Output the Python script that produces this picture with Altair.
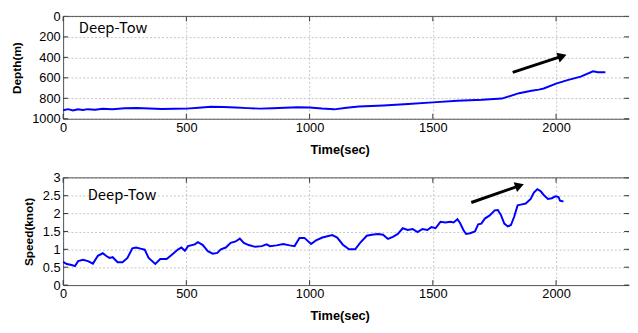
import altair as alt
import pandas as pd

# ---- data ----
depth_time = [0, 20, 40, 60, 80, 100, 130, 160, 200, 250, 300, 350, 400, 450, 500, 550, 600, 650,
              700, 750, 800, 850, 900, 950, 1000, 1050, 1100, 1150, 1200, 1300, 1400, 1500, 1600,
              1700, 1780, 1850, 1900, 1930, 1950, 2000, 2050, 2100, 2150, 2170, 2200]
depth_m = [917, 906, 918, 907, 915, 906, 912, 902, 906, 898, 895, 899, 904, 902, 901, 893, 883, 886,
           889, 896, 901, 897, 892, 888, 889, 900, 908, 892, 880, 870, 856, 840, 824,
           815, 803, 750, 727, 715, 704, 657, 620, 588, 537, 546, 546]

speed_time = [0, 15, 35, 48, 61, 81, 101, 121, 141, 161, 174, 188, 201, 221, 241, 261, 281, 296,
              314, 331, 347, 374, 394, 420, 440, 467, 480, 494, 507, 534, 547, 567, 587, 607,
              626, 640, 660, 680, 700, 717, 733, 753, 779, 806, 826, 839, 866, 893, 919, 939,
              959, 979, 1006, 1026, 1052, 1092, 1112, 1135, 1160, 1185, 1205, 1232, 1252, 1278,
              1298, 1318, 1338, 1358, 1378, 1398, 1418, 1438, 1458, 1478, 1494, 1511, 1531, 1551,
              1571, 1584, 1600, 1611, 1624, 1635, 1651, 1671, 1684, 1697, 1711, 1731, 1751, 1764,
              1777, 1790, 1804, 1817, 1830, 1844, 1857, 1877, 1897, 1910, 1924, 1937, 1950, 1967,
              1983, 1997, 2010, 2016, 2030]
speed_knot = [0.65, 0.59, 0.56, 0.53, 0.67, 0.71, 0.67, 0.60, 0.82, 0.89, 0.82, 0.76, 0.78, 0.64,
              0.64, 0.76, 1.03, 1.05, 1.02, 0.99, 0.76, 0.59, 0.73, 0.73, 0.84, 1.00, 1.05, 0.96,
              1.09, 1.14, 1.20, 1.12, 0.95, 0.88, 0.90, 1.00, 1.05, 1.18, 1.22, 1.30, 1.18, 1.12,
              1.07, 1.09, 1.14, 1.09, 1.11, 1.15, 1.11, 1.09, 1.32, 1.32, 1.15, 1.25, 1.33, 1.40,
              1.33, 1.13, 1.00, 1.00, 1.18, 1.38, 1.41, 1.43, 1.41, 1.29, 1.35, 1.43, 1.59, 1.54,
              1.57, 1.48, 1.57, 1.54, 1.62, 1.59, 1.77, 1.75, 1.77, 1.75, 1.84, 1.73, 1.54, 1.43,
              1.45, 1.50, 1.70, 1.72, 1.86, 1.95, 2.09, 2.10, 1.95, 1.72, 1.64, 1.68, 1.91, 2.23,
              2.25, 2.28, 2.41, 2.59, 2.68, 2.63, 2.52, 2.41, 2.43, 2.48, 2.46, 2.36, 2.34]

# arrow annotations (tail, head) in data units
depth_arrow_time = [1824, 2025]
depth_arrow_m = [546, 388]
speed_arrow_time = [1656, 1852]
speed_arrow_knot = [2.31, 2.78]

time_ticks = [0, 500, 1000, 1500, 2000]
depth_ticks = [0, 200, 400, 600, 800, 1000]
speed_ticks = [0, 0.5, 1, 1.5, 2, 2.5, 3]

W = 575
H1 = 104
H2 = 109
TMAX = 2296
FONT = "Liberation Sans"
LABEL_FONT = "Noto Sans CJK JP"
BLUE = "#0000FF"
GRID = "#c4c4c4"
FRAME = "#555555"


def panel(times, values, ticks, ymax, reverse, ytitle, ytitle_x, h, arrow_t, arrow_v, fmt,
          label_x, label_y):
    xs = alt.Scale(domain=[0, TMAX], nice=False, zero=False)
    ys = alt.Scale(domain=[0, ymax], nice=False, reverse=reverse)
    x_axis = alt.Axis(
        values=time_ticks, title="Time(sec)", grid=True, gridDash=[2, 2], gridColor=GRID,
        ticks=False, domainColor=FRAME, labelPadding=3, titleFontWeight="bold",
        titleFontSize=13, titleBaseline="middle", titleY=31, titleX=281, format="d",
        labelFlush=False, labelOverlap=False)
    y_axis = alt.Axis(
        values=ticks, title=ytitle, grid=True, gridDash=[2, 2], gridColor=GRID,
        ticks=False, domainColor=FRAME, labelPadding=3, titleFontWeight="bold",
        titleFontSize=12, titleBaseline="middle", titleX=ytitle_x, titleY=h / 2,
        format=fmt, labelFlush=False, labelOverlap=False)
    X = lambda: alt.X("t:Q", scale=xs, axis=x_axis)
    Y = lambda: alt.Y("v:Q", scale=ys, axis=y_axis)
    df = pd.DataFrame({"t": times, "v": values})
    line = alt.Chart(df).mark_line(color=BLUE, strokeWidth=2).encode(x=X(), y=Y())
    xt = pd.DataFrame({"t": time_ticks})
    yt = pd.DataFrame({"v": ticks})
    tick_style = dict(color="#333333", strokeWidth=1)
    top_ticks = alt.Chart(xt).mark_rule(**tick_style).encode(
        x=X(), y=alt.value(0), y2=alt.value(5))
    bot_ticks = alt.Chart(xt).mark_rule(**tick_style).encode(
        x=X(), y=alt.value(h - 5), y2=alt.value(h))
    left_ticks = alt.Chart(yt).mark_rule(**tick_style).encode(
        y=Y(), x=alt.value(0), x2=alt.value(5))
    right_ticks = alt.Chart(yt).mark_rule(**tick_style).encode(
        y=Y(), x=alt.value(W - 5), x2=alt.value(W))
    top_frame = alt.Chart(xt.head(1)).mark_rule(color=FRAME, strokeWidth=1).encode(
        x=alt.value(0), x2=alt.value(W), y=alt.value(0))
    adf = pd.DataFrame({"t": arrow_t, "v": arrow_v})
    shaft = alt.Chart(adf).mark_line(color="black", strokeWidth=3).encode(x=X(), y=Y())
    head = alt.Chart(adf.tail(1)).mark_point(
        shape="triangle-right", filled=True, color="black", opacity=1, size=110, angle=341
    ).encode(x=X(), y=Y())
    label = alt.Chart(xt.head(1)).mark_text(
        text="Deep-Tow", align="left", baseline="alphabetic", font=LABEL_FONT, fontSize=15,
        color="black"
    ).encode(x=alt.value(label_x), y=alt.value(label_y))
    return alt.layer(line, top_ticks, bot_ticks, left_ticks, right_ticks, top_frame,
                     shaft, head, label).properties(width=W, height=h)


p1 = panel(depth_time, depth_m, depth_ticks, 1000, True, "Depth(m)", -47, H1,
           depth_arrow_time, depth_arrow_m, "d", 16, 17)
p2 = panel(speed_time, speed_knot, speed_ticks, 3, False, "Speed(knot)", -35, H2,
           speed_arrow_time, speed_arrow_knot, "~g", 25, 23)

chart = alt.vconcat(p1, p2, spacing=16).properties(
    padding={"left": 2, "top": 0, "right": 0, "bottom": 0}
).configure_view(stroke=None).configure_axis(
    labelFont=FONT, titleFont=FONT, labelFontSize=13, labelColor="black", titleColor="black"
)

chart.save("out.html", embed_options={"renderer": "svg", "actions": False})
